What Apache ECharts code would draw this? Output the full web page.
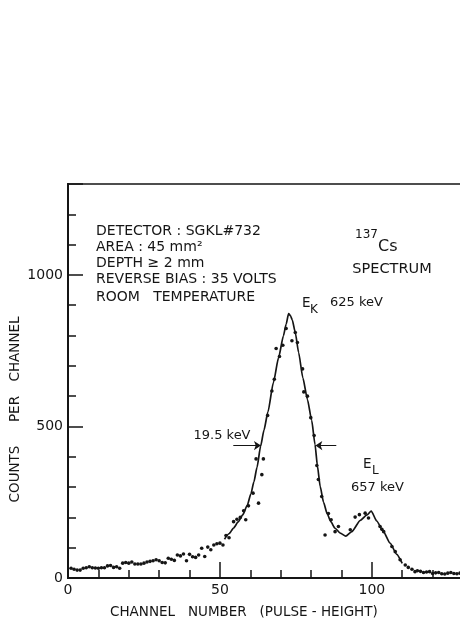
<!DOCTYPE html>
<html><head><meta charset="utf-8">
<script src="https://cdn.jsdelivr.net/npm/echarts@6/dist/echarts.min.js"></script>
<style>html,body{margin:0;padding:0;background:#fff}#c{width:460px;height:628px}</style>
</head><body><div id="c"></div>
<script>
// ---- data ----
const xTickLabels = [0, 50, 100];
const yTickLabels = [0, 500, 1000];

const dotChannels = [1,2,3,4,5,6,7,8,9,10,11,12,13,14,15,16,17,18,19,20,21,22,23,24,25,26,27,28,29,30,
  31,32,33,34,35,36,37,38,39,40,41,42,43,44,45,46,47,48,49,50,51,
  52,53,54.5,55.6,56.7,57.8,58.5,59.4,60.9,61.9,62.7,63.8,64.3,65.7,67.1,67.9,68.5,69.6,70.7,71.8,
  73.7,74.8,75.5,77.2,77.6,78.8,79.9,81.0,81.9,82.4,83.5,84.6,85.7,86.6,87.9,89.0,
  92.9,94.5,95.9,97.8,98.9,102.7,103.3,103.9,106.6,107.7,109.3,111,112,113.2,
  114.2,115,116,117,118,119,120,121,122,123,124,125,126,127,128,129];
const dotCounts = [32,29,26,26,32,34,37,34,33,32,34,34,40,41,35,37,32,49,51,49,53,46,46,46,49,53,55,57,60,57,
  51,50,65,62,58,76,73,79,57,78,70,68,76,98,71,102,93,109,113,115,109,
  140,133,186,194,200,222,192,238,280,393,247,341,393,536,617,656,757,731,768,823,
  783,810,777,690,614,600,529,470,371,325,269,142,213,192,153,170,
  159,201,209,214,198,170,161,153,104,87,60,43,35,29,
  21,24,22,18,20,21,15,17,18,14,13,16,18,15,14,16];

const lineChannels = [51.5,53,54.5,56,57.5,59,60.2,61.2,62.2,63.4,64.5,65.8,67.6,69.3,70.9,71.8,72.6,73.2,73.8,
  74.8,75.9,77.3,78.8,80.2,81.3,82.1,83,84.1,85.3,86.5,87.8,89.6,91.4,93.4,96.2,98.4,99.8,101.6,103.8,106,108.2,110];
const lineCounts = [128,146,165,185,208,240,278,318,365,435,488,548,645,727,799,838,872,866,852,
  810,744,660,589,520,440,369,302,250,212,186,165,148,138,153,190,208,221,188,153,115,78,48];

const fwhmLevel = 437;
const fwhmLeftArrow = [54.4, 63.5];
const fwhmRightArrow = [88.3, 81.4];

// ---- chart ----
const INK = '#151515';
const FONT = '"DejaVu Sans"';
const dots = dotChannels.map((c, i) => [c, dotCounts[i]]);
const curve = lineChannels.map((c, i) => [c, lineCounts[i]]);

function txt(x, y, text, size, align, extra) {
  return Object.assign({
    type: 'text', x: x, y: y, silent: true,
    style: {
      text: text, font: size + 'px ' + FONT, fill: INK,
      align: align || 'left', textAlign: align || 'left',
      verticalAlign: 'middle', textVerticalAlign: 'middle'
    }
  }, extra || {});
}

const chart = echarts.init(document.getElementById('c'), null, {renderer: 'canvas'});
const axisCommon = {
  type: 'value', min: 0, splitLine: {show: false},
  axisLine: {show: true, onZero: false, lineStyle: {color: INK, width: 2}}
};
chart.setOption({
  animation: false,
  backgroundColor: '#fff',
  grid: {left: 68, top: 184, width: 395, height: 394, show: true, borderColor: INK, borderWidth: 1.5,
         backgroundColor: 'transparent', containLabel: false, outerBoundsMode: 'none'},
  xAxis: [
    Object.assign({}, axisCommon, {max: 130, interval: 10, position: 'bottom',
      axisTick: {show: true, inside: true, length: 8, lineStyle: {color: INK, width: 1.5}},
      axisLabel: {show: false}}),
    Object.assign({}, axisCommon, {max: 130, interval: 50, position: 'bottom',
      axisTick: {show: true, inside: true, length: 16, lineStyle: {color: INK, width: 1.5}},
      axisLabel: {show: true, margin: 5, color: INK, fontFamily: FONT, fontSize: 14,
        formatter: v => xTickLabels.includes(v) ? String(v) : ''}})
  ],
  yAxis: [
    Object.assign({}, axisCommon, {max: 1300, interval: 100, position: 'left',
      axisTick: {show: true, inside: true, length: 8, lineStyle: {color: INK, width: 1.5}},
      axisLabel: {show: false}}),
    Object.assign({}, axisCommon, {max: 1300, interval: 500, position: 'left', offset: 0,
      axisTick: {show: true, inside: true, length: 15, lineStyle: {color: INK, width: 1.5}},
      axisLabel: {show: true, margin: 5, color: INK, fontFamily: FONT, fontSize: 14,
        formatter: v => yTickLabels.includes(v) ? String(v) : ''}})
  ],
  series: [
    {type: 'scatter', xAxisIndex: 0, yAxisIndex: 0, data: dots, symbol: 'circle', symbolSize: 3.6,
     itemStyle: {color: INK, opacity: 1}, silent: true},
    {type: 'line', xAxisIndex: 0, yAxisIndex: 0, data: curve, showSymbol: false,
     smooth: 0.2, smoothMonotone: 'x',
     lineStyle: {color: INK, width: 1.7}, silent: true,
     markLine: {silent: true, symbol: ['none', 'arrow'], symbolSize: 7, animation: false,
       label: {show: false}, lineStyle: {color: INK, width: 1, type: 'solid'},
       data: [
         [{coord: [fwhmLeftArrow[0], fwhmLevel]}, {coord: [fwhmLeftArrow[1], fwhmLevel]}],
         [{coord: [fwhmRightArrow[0], fwhmLevel]}, {coord: [fwhmRightArrow[1], fwhmLevel]}]
       ]}}
  ],
  graphic: [
    txt(96, 231, 'DETECTOR : SGKL#732', 14),
    txt(96, 247, 'AREA : 45 mm²', 14),
    txt(96, 263, 'DEPTH ≥ 2 mm', 14),
    txt(96, 279, 'REVERSE BIAS : 35 VOLTS', 14),
    txt(96, 297, 'ROOM   TEMPERATURE', 14),
    txt(355, 235, '137', 12),
    txt(378, 247, 'Cs', 16),
    txt(392, 269, 'SPECTRUM', 14.5, 'center'),
    txt(302, 303, 'E', 13.5),
    txt(310, 309.5, 'K', 12),
    txt(330, 303, '625 keV', 13),
    txt(222, 436, '19.5 keV', 13, 'center'),
    txt(363, 464.5, 'E', 13.5),
    txt(372, 470.5, 'L', 12),
    txt(377.5, 487.5, '657 keV', 13, 'center'),
    txt(110, 612, 'CHANNEL   NUMBER   (PULSE - HEIGHT)', 13.5),
    txt(15, 474, 'COUNTS', 13.5, 'center', {rotation: Math.PI / 2}),
    txt(15, 409, 'PER', 13.5, 'center', {rotation: Math.PI / 2}),
    txt(15, 349, 'CHANNEL', 13.5, 'center', {rotation: Math.PI / 2})
  ]
});
</script>
</body></html>
